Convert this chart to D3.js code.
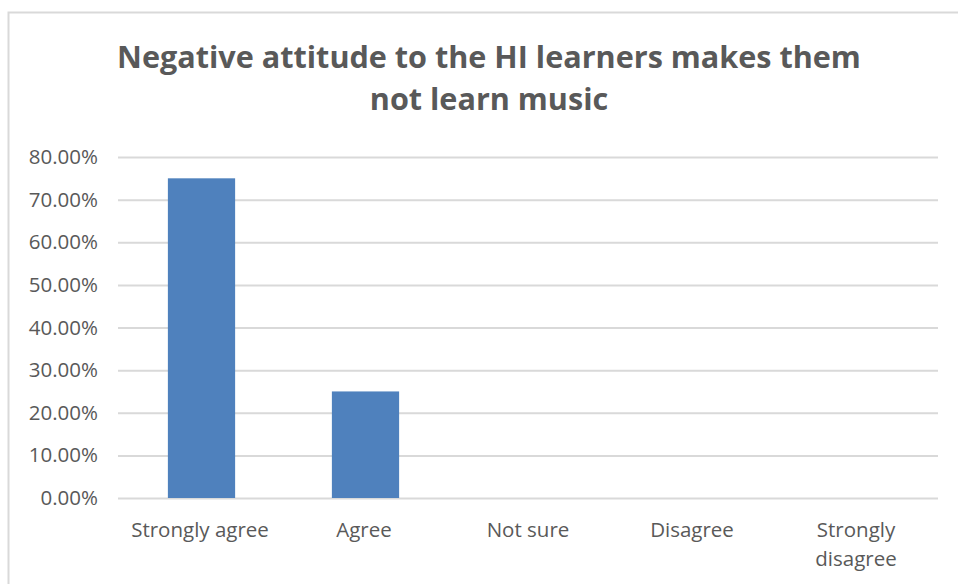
<!DOCTYPE html>
<html><head><meta charset="utf-8">
<script src="https://cdn.jsdelivr.net/npm/d3@7"></script>
<style>html,body{margin:0;padding:0;background:#fff;}svg{display:block;}</style>
</head><body>
<svg id="chart" width="958" height="584"></svg>
<script>
const titleLines = ["Negative attitude to the HI learners makes them", "not learn music"];
const categories = ["Strongly agree", "Agree", "Not sure", "Disagree", "Strongly disagree"];
const values = [0.75, 0.25, 0, 0, 0];
const yTicks = [0, 0.1, 0.2, 0.3, 0.4, 0.5, 0.6, 0.7, 0.8];

const svg = d3.select("#chart");
const W = 958, H = 584;
const m = {left: 118, right: 20, top: 157, bottom: 86};
const iw = W - m.left - m.right, ih = H - m.top - m.bottom;
const txt = "#595959", font = "'Open Sans', sans-serif";

// chart border
svg.append("rect").attr("x", 8.5).attr("y", 12.5).attr("width", W + 10).attr("height", H + 10)
  .attr("fill", "#fff").attr("stroke", "#d9d9d9").attr("stroke-width", 2);

// title
const title = svg.append("text").attr("text-anchor", "middle").attr("fill", txt)
  .attr("font-family", font).attr("font-weight", "bold").attr("font-size", 28);
title.selectAll("tspan").data(titleLines).join("tspan")
  .attr("x", 489).attr("y", (d, i) => 68 + i * 42).text(d => d);
const w1 = title.select("tspan").node().getComputedTextLength();
title.attr("font-size", 28 * 744 / w1);

const x = d3.scaleBand().domain(categories).range([0, iw]).padding(0);
const y = d3.scaleLinear().domain([0, 0.8]).range([ih, 0]);

const g = svg.append("g").attr("transform", `translate(${m.left},${m.top})`);

// gridlines + y axis labels
const yAxis = g.append("g").call(d3.axisLeft(y).tickValues(yTicks).tickSize(-iw).tickPadding(20)
  .tickFormat(d => (d * 100).toFixed(2) + "%"));
yAxis.select(".domain").remove();
yAxis.selectAll("line").attr("stroke", "#d9d9d9").attr("stroke-width", 2);
yAxis.selectAll("text").attr("fill", txt).attr("font-family", font).attr("font-size", 20.5);

// bars
const bw = x.bandwidth() * 0.41;
g.selectAll("rect.bar").data(values).join("rect").attr("class", "bar")
  .attr("x", (d, i) => x(categories[i]) + x.bandwidth() / 2 - bw / 2 + 1.5)
  .attr("width", bw)
  .attr("y", d => y(d)).attr("height", d => ih - y(d))
  .attr("fill", "#4f81bd");

// category labels
const xl = g.append("g").selectAll("text").data(categories).join("text")
  .attr("text-anchor", "middle").attr("fill", txt).attr("font-family", font).attr("font-size", 20.5)
  .attr("transform", d => `translate(${x(d) + x.bandwidth() / 2},${ih + 39})`);
xl.each(function(d) {
  const t = d3.select(this);
  const parts = d === "Strongly disagree" ? ["Strongly", "disagree"] : [d];
  parts.forEach((p, i) => t.append("tspan").attr("x", 0).attr("y", i * 29).text(p));
});
</script>
</body></html>
